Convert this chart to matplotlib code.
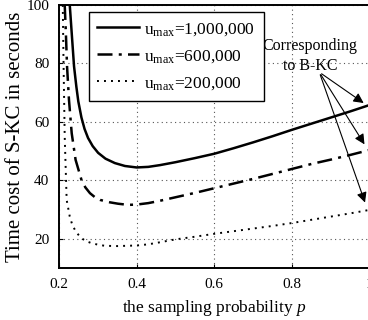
import matplotlib.pyplot as plt

plt.rcParams["font.family"] = ["Liberation Serif", "DejaVu Serif"]
plt.rcParams["mathtext.fontset"] = "custom"
plt.rcParams["mathtext.rm"] = "Liberation Serif"
plt.rcParams["mathtext.it"] = "Liberation Serif:italic"

# values
p_1m = [0.228, 0.233, 0.239, 0.245, 0.250, 0.258, 0.266, 0.275, 0.287, 0.301, 0.320, 0.344, 0.37, 0.40,
        0.43, 0.46, 0.50, 0.55, 0.60, 0.65, 0.70, 0.75, 0.80, 0.85, 0.90, 0.95, 1.0]
t_1m = [100, 90.4, 79, 72, 67, 61.5, 57.6, 54.5, 51.7, 49.4, 47.4, 45.9, 44.9, 44.4,
        44.6, 45.2, 46.2, 47.6, 49.1, 51, 53, 55.1, 57.3, 59.4, 61.5, 63.6, 65.8]

p_600k = [0.215, 0.218, 0.221, 0.226, 0.233, 0.243, 0.258, 0.268, 0.280, 0.292, 0.306, 0.33, 0.352, 0.378, 0.40,
          0.43, 0.46, 0.50, 0.55, 0.60, 0.65, 0.70, 0.75, 0.80, 0.85, 0.90, 0.95, 1.0]
t_600k = [100, 90.4, 79, 67.5, 56.1, 47, 40.2, 37.6, 35.6, 34.3, 33.3, 32.5, 32, 31.6, 31.7,
          32.2, 33, 34.2, 35.7, 37.3, 38.9, 40.5, 42.2, 43.9, 45.6, 47.1, 48.7, 50.4]

p_200k = [0.21, 0.212, 0.215, 0.22, 0.228, 0.234, 0.241, 0.25, 0.258, 0.27, 0.284, 0.30, 0.318, 0.35, 0.40,
          0.43, 0.46, 0.50, 0.55, 0.60, 0.65, 0.70, 0.75, 0.80, 0.85, 0.90, 0.95, 1.0]
t_200k = [100, 80, 55, 33.3, 27.6, 25, 23.1, 21.4, 20.2, 19.2, 18.5, 18, 17.6, 17.5, 17.7,
          18.1, 18.8, 19.8, 20.7, 21.7, 22.6, 23.5, 24.4, 25.4, 26.5, 27.6, 28.7, 29.9]

x_ticks = [0.2, 0.4, 0.6, 0.8, 1.0]
x_tick_labels = ["0.2", "0.4", "0.6", "0.8", "1"]
y_ticks = [20, 40, 60, 80, 100]

arrow_tail = (0.87, 77)
arrow_heads = [(0.99, 65.9), (0.99, 51.5), (0.99, 31.5)]

fig = plt.figure(figsize=(3.68, 3.2), dpi=100)
ax = fig.add_axes([0.160, 0.1625, 0.845, 0.822])

ax.plot(p_1m, t_1m, color="black", lw=1.8, ls="-", label=r"$\mathrm{u_{max}}$=1,000,000")
ax.plot(p_600k, t_600k, color="black", lw=1.8, ls=(0, (6, 2.5, 1.2, 2.5)), label=r"$\mathrm{u_{max}}$=600,000")
ax.plot(p_200k, t_200k, color="black", lw=1.4, ls=(0, (1, 2.6)), label=r"$\mathrm{u_{max}}$=200,000")

ax.set_xlim(0.2, 1.0)
ax.set_ylim(10, 100)
ax.set_xticks(x_ticks)
ax.set_xticklabels(x_tick_labels)
ax.set_yticks(y_ticks)
ax.tick_params(direction="in", labelsize=11, length=3, pad=7)
ax.grid(True, ls=(0, (1, 3)), color="#555555", lw=0.8)
for s in ax.spines.values():
    s.set_linewidth(1.4)

ax.set_xlabel(r"the sampling probability $p$", fontsize=12.5, labelpad=5)
ax.set_ylabel("Time cost of S-KC in seconds", fontsize=15, labelpad=1)

leg = ax.legend(loc="upper left", bbox_to_anchor=(0.096, 0.973), borderaxespad=0, fontsize=12.5,
                frameon=True, fancybox=False, edgecolor="black", framealpha=1, handlelength=2.4,
                handletextpad=0.3, labelspacing=0.6, borderpad=0.5)
leg.get_frame().set_linewidth(1.0)

ax.text(0.846, 82.5, "Corresponding\nto B-KC", ha="center", va="center", fontsize=11.5, linespacing=1.3)
for hx, hy in arrow_heads:
    ax.annotate("", xy=(hx, hy), xytext=arrow_tail,
                arrowprops=dict(arrowstyle="-|>", color="black", lw=0.8, mutation_scale=15))

fig.savefig("out.png", dpi=100)
